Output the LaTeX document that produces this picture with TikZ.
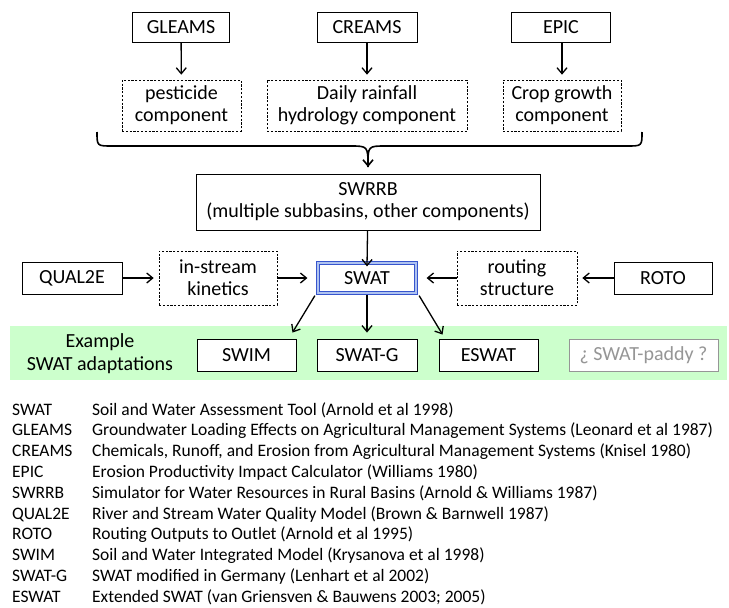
\documentclass[tikz,border=0pt]{standalone}
\usepackage{fontspec}
\setmainfont{Carlito}
\usetikzlibrary{arrows.meta}
\definecolor{bandgreen}{RGB}{204,255,204}
\definecolor{swatblue}{RGB}{55,85,205}
\definecolor{swatlight}{RGB}{175,195,240}
\definecolor{paddygray}{RGB}{150,150,150}
\begin{document}
\begin{tikzpicture}[x=1pt,y=-1pt,
  box/.style={draw,fill=white,line width=0.9pt,minimum height=32pt,inner sep=0pt,font=\fontsize{20}{22}\selectfont,align=center},
  dbox/.style={draw,dash pattern=on 2.2pt off 1.6pt,line width=0.6pt,inner sep=0pt,font=\fontsize{20}{22}\selectfont,align=center},
  arr/.style={line width=1.3pt,-{Straight Barb[length=6pt,width=10pt]}},
  leg/.style={anchor=base west,inner sep=0pt,font=\fontsize{17.5}{20}\selectfont},
  bracepath/.style={line width=1.6pt},
  swatbox/.style={box,draw=swatblue,line width=3.2pt,postaction={draw=swatlight,line width=1.2pt}}
]
\useasboundingbox (0,0) rectangle (729,608);
% green band
\fill[bandgreen] (10,326) rectangle (727,380);
% top row
\node[box,minimum width=97pt,minimum height=30pt] (gleams) at (181,27) {GLEAMS};
\node[box,minimum width=100pt,minimum height=30pt] (creams) at (367,27) {CREAMS};
\node[box,minimum width=99pt,minimum height=30pt] (epic) at (561,27) {EPIC};
\node[dbox,minimum width=119pt,minimum height=51pt] (pest) at (181.5,105.5) {pesticide\\component};
\node[dbox,minimum width=200pt,minimum height=51pt] (rain) at (367,105.5) {Daily rainfall\\hydrology component};
\node[dbox,minimum width=118pt,minimum height=51pt] (crop) at (562,105.5) {Crop growth\\component};
\draw[arr,shorten >=5pt] (gleams) -- (pest);
\draw[arr,shorten >=5pt] (creams) -- (rain);
\draw[arr,shorten >=5pt] (epic.south -| crop.north) -- (crop);
% brace
\coordinate (bl) at (97,132);
\coordinate (br) at (642,132);
\coordinate (btip) at (368,167);
\draw[bracepath] (bl) .. controls (97,146) .. (112,146) -- (350,146) .. controls (368,146) .. (btip);
\draw[bracepath,-{Straight Barb[length=6pt,width=10pt]}] (br) .. controls (642,146) .. (627,146) -- (386,146) .. controls (368,146) .. (btip);
% SWRRB
\node[box,minimum width=344pt,minimum height=56pt] (swrrb) at (368,202) {SWRRB\\(multiple subbasins, other components)};
% SWAT row
\node[swatbox,minimum width=98pt,minimum height=30pt] (swat) at (367,278) {SWAT};
\node[box,minimum width=100pt] (qual) at (72,278) {QUAL2E};
\node[dbox,minimum width=118pt,minimum height=54pt] (instream) at (218,278) {in-stream\\kinetics};
\node[dbox,minimum width=120pt,minimum height=54pt] (routing) at (517,278) {routing\\structure};
\node[box,minimum width=98pt] (roto) at (663,278) {ROTO};
\draw[arr] (swrrb) -- ([yshift=-5pt]swat.north);
\draw[arr,shorten >=5pt] (qual) -- (instream);
\draw[arr,shorten >=9pt] (instream) -- (swat);
\draw[arr,shorten >=5pt] (roto) -- (routing);
\draw[arr,shorten >=9pt] (routing) -- (swat);
% adaptations
\node[font=\fontsize{20}{23}\selectfont,align=center] (example) at (100,354) {Example\\SWAT adaptations};
\node[box,minimum width=99pt] (swim) at (246.5,355) {SWIM};
\node[box,minimum width=100pt] (swatg) at (367,355) {SWAT-G};
\node[box,minimum width=99pt] (eswat) at (488.5,355) {ESWAT};
\node[box,draw=paddygray,text=paddygray,minimum width=149pt] (paddy) at (643.5,355) {¿ SWAT-paddy ?};
\draw[arr] ([shift={(-1.5pt,-1pt)}]swat.south west) -- ([shift={(-4pt,6pt)}]swim.north east);
\draw[arr,shorten >=6pt] (swat) -- (swatg);
\draw[arr] ([shift={(1.5pt,-1pt)}]swat.south east) -- ([shift={(4pt,4pt)}]eswat.north west);
% legend
\foreach \i/\ab/\desc in {
 0/SWAT/Soil and Water Assessment Tool (Arnold et al 1998),
 1/GLEAMS/Groundwater Loading Effects on Agricultural Management Systems (Leonard et al 1987),
 2/CREAMS/{Chemicals, Runoff, and Erosion from Agricultural Management Systems (Knisel 1980)},
 3/EPIC/Erosion Productivity Impact Calculator (Williams 1980),
 4/SWRRB/Simulator for Water Resources in Rural Basins (Arnold \& Williams 1987),
 5/QUAL2E/River and Stream Water Quality Model (Brown \& Barnwell 1987),
 6/ROTO/Routing Outputs to Outlet (Arnold et al 1995),
 7/SWIM/Soil and Water Integrated Model (Krysanova et al 1998),
 8/SWAT-G/SWAT modified in Germany (Lenhart et al 2002),
 9/ESWAT/Extended SWAT (van Griensven \& Bauwens 2003; 2005)}{
 \node[leg] (ab\i) at (12,415+20.8*\i) {\ab};
 \node[leg] (de\i) at (92,415+20.8*\i) {\desc};
}
\end{tikzpicture}
\end{document}
